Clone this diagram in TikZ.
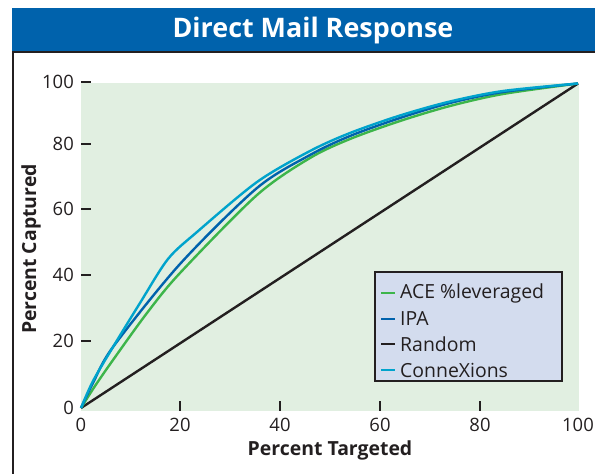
\documentclass[tikz,border=0pt]{standalone}
\usepackage{fontspec}
\setmainfont{Open Sans}
\definecolor{titleblue}{HTML}{0062AC}
\definecolor{plotbg}{HTML}{E1EFE1}
\definecolor{legendbg}{HTML}{D3DCEE}
\definecolor{aceG}{HTML}{3DB54A}
\definecolor{ipaB}{HTML}{0062AC}
\definecolor{conC}{HTML}{00A3CC}
\definecolor{inkK}{HTML}{231F20}
\tikzset{
  ticklab/.style={font=\fontsize{18.5}{20}\selectfont, text=inkK, inner sep=0pt},
  axislab/.style={font=\bfseries\fontsize{19.5}{22}\selectfont, text=inkK, inner sep=0pt},
  tickmark/.style={draw=inkK, line width=1.6bp},
  curve/.style={line width=2.4bp, smooth, tension=0.5, line join=round},
  legtext/.style={font=\fontsize{19.5}{22}\selectfont, text=inkK, anchor=west, inner sep=0pt},
  legline/.style={line width=2.4bp}
}
\begin{document}
\begin{tikzpicture}[x=1bp, y=-1bp]
\useasboundingbox (0,0) rectangle (595,474);
% title bar and frame
\fill[titleblue] (12,8) rectangle (595,51);
\node[font=\bfseries\fontsize{27}{30}\selectfont, text=white, inner sep=0pt] (title) at (313,31) {Direct Mail Response};
\draw[inkK, line width=2.4bp] (12,52) -- (595,52);
\draw[inkK, line width=2.2bp] (13,52) -- (13,474);
% plot area
\fill[plotbg] (81,83) rectangle (579,411);
% y ticks and labels
\foreach \v/\py in {0/408,20/341,40/275,60/209,80/144,100/82}{
  \ifnum\v>0 \draw[tickmark] (81,\py) -- (91,\py); \fi
  \node[ticklab, anchor=east] (ylab\v) at (74,\py) {\v};
}
% x ticks and labels
\foreach \v/\px in {0/81,20/180,40/280,60/380,80/480,100/578}{
  \ifnum\v>0 \ifnum\v<100 \draw[tickmark] (\px,401) -- (\px,411); \fi\fi
  \node[ticklab] (xlab\v) at (\px,425) {\v};
}
\node[axislab] (xtitle) at (330,450) {Percent Targeted};
\node[axislab, rotate=90] (ytitle) at (31,249) {Percent Captured};
% gain curves
\coordinate (orig) at (81,408);
\coordinate (top) at (578,83.5);
\draw[inkK, line width=2.4bp] (orig) -- (top);
\draw[aceG, curve] plot coordinates {(81,408) (95,386) (113,360) (147,313) (180,273) (257,195) (310,158) (350,139) (400,121) (450,106) (503,94) (578,83.5)};
\draw[ipaB, curve] plot coordinates {(81,408) (93,383) (113,347) (180,264) (257,188) (310,155) (350,136) (400,118) (450,103) (503,92) (578,83.5)};
\draw[conC, curve] plot coordinates {(81,408) (93,381) (113,347) (140,303) (168,259) (197,232) (257,182) (310,151) (350,133) (400,115.5) (450,101.5) (503,91) (578,83.5)};
% legend
\node[draw=inkK, line width=1.5bp, fill=legendbg, minimum width=187bp, minimum height=109bp, inner sep=0pt] (legend) at (468.5,326.5) {};
\foreach \col/\txt/\py [count=\i] in {aceG/ACE \%leveraged/293, ipaB/IPA/319, inkK/Random/344, conC/ConneXions/370}{
  \draw[\col, legline] (381,\py) -- (395,\py);
  \node[legtext] (leg\i) at (400,\py) {\txt};
}
\end{tikzpicture}
\end{document}
